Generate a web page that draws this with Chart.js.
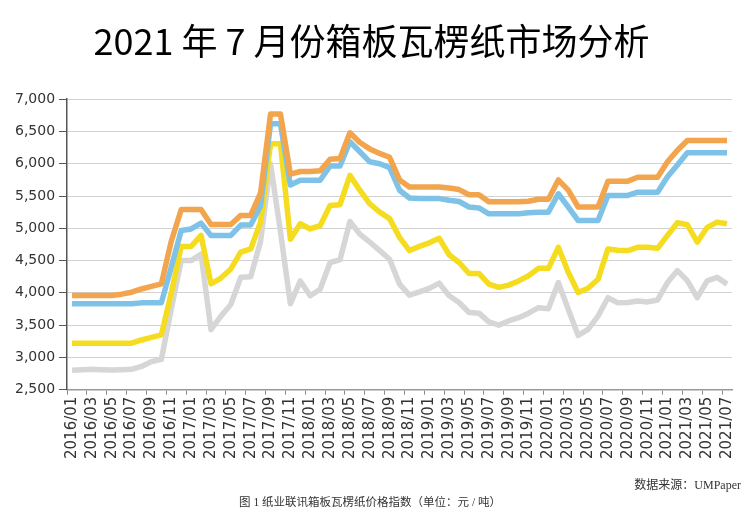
<!DOCTYPE html>
<html>
<head>
<meta charset="utf-8">
<script src="https://cdn.jsdelivr.net/npm/chart.js@4.4.1/dist/chart.umd.min.js"></script>
<style>
html,body{margin:0;padding:0;background:#fff;}
#wrap{width:751px;height:517px;position:relative;}
</style>
</head>
<body>
<div id="wrap"><canvas id="c" width="751" height="517"></canvas></div>
<script>
const TITLE = '2021 年 7 月份箱板瓦楞纸市场分析';
const SOURCE = '数据来源：UMPaper';
const CAPTION = '图 1 纸业联讯箱板瓦楞纸价格指数（单位：元 / 吨）';

const months = [
 '2016/01','2016/02','2016/03','2016/04','2016/05','2016/06','2016/07','2016/08','2016/09','2016/10','2016/11','2016/12',
 '2017/01','2017/02','2017/03','2017/04','2017/05','2017/06','2017/07','2017/08','2017/09','2017/10','2017/11','2017/12',
 '2018/01','2018/02','2018/03','2018/04','2018/05','2018/06','2018/07','2018/08','2018/09','2018/10','2018/11','2018/12',
 '2019/01','2019/02','2019/03','2019/04','2019/05','2019/06','2019/07','2019/08','2019/09','2019/10','2019/11','2019/12',
 '2020/01','2020/02','2020/03','2020/04','2020/05','2020/06','2020/07','2020/08','2020/09','2020/10','2020/11','2020/12',
 '2021/01','2021/02','2021/03','2021/04','2021/05','2021/06','2021/07'
];

const orange = [
 3960,3960,3960,3960,3960,3980,4010,4060,4100,4140,4800,5290,
 5290,5290,5060,5060,5060,5200,5200,5550,6770,6770,5840,5880,
 5880,5890,6070,6080,6480,6330,6230,6160,6100,5750,5640,5640,
 5640,5640,5625,5600,5520,5520,5410,5410,5410,5410,5420,5450,
 5450,5750,5590,5330,5330,5330,5730,5730,5730,5790,5790,5790,
 6030,6210,6360,6360,6360,6360,6360
];
const blue = [
 3830,3830,3830,3830,3830,3830,3830,3845,3845,3845,4400,4965,
 4990,5080,4890,4890,4890,5050,5050,5350,6620,6620,5670,5745,
 5745,5745,5965,5965,6340,6185,6030,6000,5940,5590,5470,5460,
 5460,5460,5435,5415,5330,5315,5225,5225,5225,5225,5240,5250,
 5250,5535,5330,5120,5120,5120,5510,5510,5510,5560,5560,5560,
 5800,5980,6170,6170,6170,6170,6170
];
const yellow = [
 3220,3220,3220,3220,3220,3220,3220,3270,3310,3350,4000,4720,
 4720,4890,4140,4230,4370,4630,4680,5100,6310,6310,4830,5070,
 4990,5040,5355,5365,5820,5590,5380,5250,5150,4860,4655,4720,
 4775,4845,4590,4470,4300,4300,4135,4085,4120,4185,4265,4380,
 4380,4705,4320,4005,4070,4210,4680,4660,4655,4705,4705,4690,
 4890,5085,5055,4785,5015,5095,5070
];
const gray = [
 2800,2810,2815,2810,2805,2810,2815,2860,2935,2970,3750,4500,
 4500,4600,3430,3640,3820,4240,4250,4800,6000,4950,3830,4185,
 3955,4055,4470,4510,5105,4910,4785,4655,4520,4135,3965,4015,
 4070,4150,3955,3850,3695,3685,3550,3500,3565,3615,3685,3770,
 3755,4160,3745,3340,3435,3640,3925,3845,3850,3875,3860,3890,
 4160,4345,4190,3925,4185,4240,4135
];

const yMin = 2500, yMax = 7000, yStep = 500;

function ds(data, color) {
  return {data, borderColor: color, backgroundColor: color, borderWidth: 5.5,
          pointRadius: 0, tension: 0, fill: false, borderJoinStyle: 'round', borderCapStyle: 'butt'};
}

const footer = {
  id: 'footer',
  afterDraw(chart) {
    const c = chart.ctx;
    c.save();
    c.fillStyle = '#333';
    c.textBaseline = 'middle';
    c.font = '12px "Liberation Serif", "Noto Sans CJK SC"';
    c.textAlign = 'right';
    c.fillText(SOURCE, 741, 486);
    c.font = '11.5px "Liberation Serif", "Noto Sans CJK SC"';
    c.textAlign = 'center';
    c.fillText(CAPTION, 370, 503);
    c.restore();
  }
};

new Chart(document.getElementById('c'), {
  type: 'line',
  data: {
    labels: months,
    datasets: [ds(orange, '#F2A54C'), ds(blue, '#7EC3E7'), ds(yellow, '#F5DC1E'), ds(gray, '#D6D6D6')]
  },
  plugins: [footer],
  options: {
    responsive: false,
    animation: false,
    devicePixelRatio: 1,
    layout: {padding: {left: 11, right: 19, top: 0, bottom: 56}},
    plugins: {
      legend: {display: false},
      tooltip: {enabled: false},
      title: {
        display: true, text: TITLE, color: '#000',
        font: {family: '"Noto Sans CJK SC"', size: 36, weight: 'normal', lineHeight: 1.2},
        padding: {top: 20, bottom: 36}
      }
    },
    scales: {
      x: {
        type: 'category',
        offset: true,
        grid: {
          offset: true, drawOnChartArea: false, tickLength: 5, lineWidth: 1,
          color: (ctx) => (ctx.index !== undefined && ctx.index % 2 === 0) ? '#888' : 'rgba(0,0,0,0)'
        },
        border: {color: '#999', width: 1.5},
        ticks: {
          autoSkip: false, maxRotation: 90, minRotation: 90, padding: 2,
          color: '#333', font: {family: '"DejaVu Sans"', size: 15},
          callback: (v, i) => (i % 2 === 0 ? months[i] : '')
        }
      },
      y: {
        min: yMin, max: yMax,
        grid: {color: '#d2d2d2', tickColor: '#555', tickLength: 8, lineWidth: 1},
        border: {color: '#555', width: 1.5},
        ticks: {
          stepSize: yStep, padding: 4, color: '#333',
          font: {family: '"DejaVu Sans"', size: 14},
          callback: (v) => v.toLocaleString('en-US')
        }
      }
    }
  }
});
</script>
</body>
</html>
